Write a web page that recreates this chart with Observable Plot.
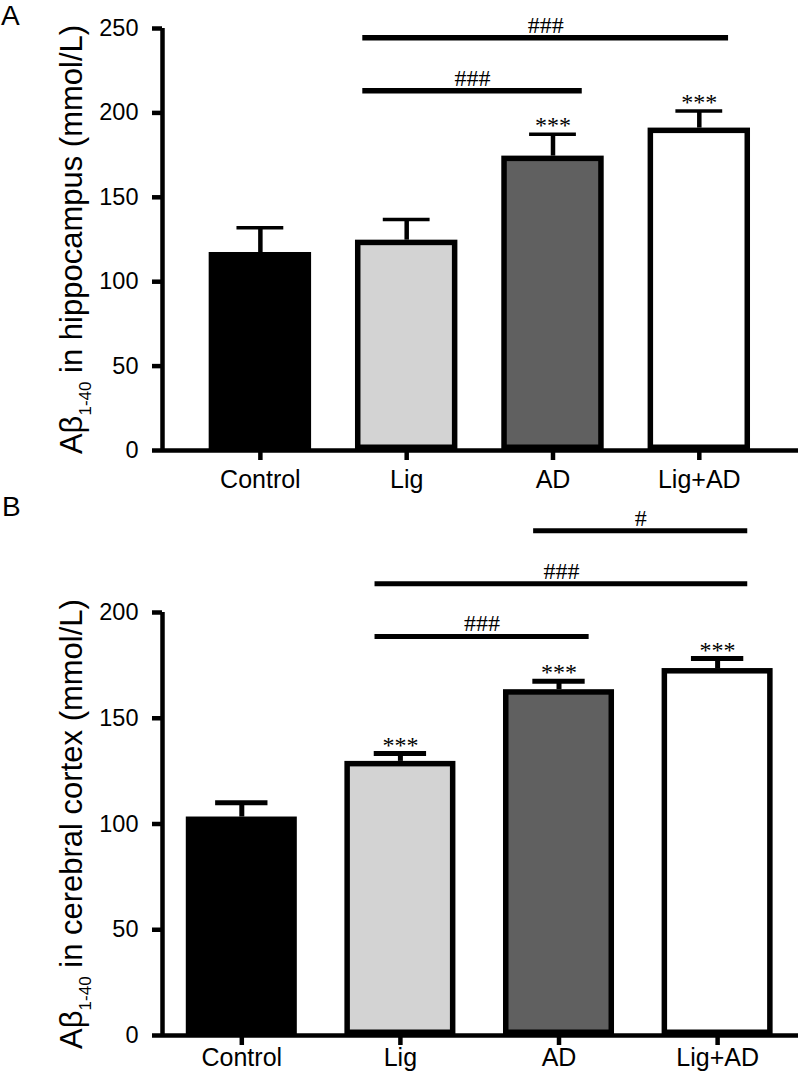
<!DOCTYPE html>
<html><head><meta charset="utf-8">
<script src="https://cdn.jsdelivr.net/npm/d3@7"></script>
<script src="https://cdn.jsdelivr.net/npm/@observablehq/plot@0.6"></script>
<style>
html,body{margin:0;padding:0;background:#fff;}
#wrap{position:relative;width:800px;height:1079px;overflow:hidden;font-family:"Liberation Sans",Arial,sans-serif;}
.panel{position:absolute;left:0;}
.letter{position:absolute;font-size:28px;line-height:normal;color:#000;font-family:"Liberation Sans",Arial,sans-serif;}
</style></head><body>
<div id="wrap">
<div id="pa" class="panel" style="top:0"></div>
<div id="pb" class="panel" style="top:495px"></div>
<div class="letter" style="left:1px;top:0px">A</div>
<div class="letter" style="left:2px;top:491px">B</div>
</div>
<script>
// ---- data ----
const categories = ["Control", "Lig", "AD", "Lig+AD"];

const hippoMean = [117.3, 124.6, 174.4, 191.0];
const hippoSem = [14.6, 12.2, 13.0, 10.1];
const hippoStars = ["", "", "***", "***"];
const hippoCompFrom = ["Lig", "Lig"];
const hippoCompTo = ["AD", "Lig+AD"];
const hippoCompLabel = ["###", "###"];
const hippoTicks = [0, 50, 100, 150, 200, 250];

const cortexMean = [103.3, 129.6, 163.5, 173.5];
const cortexSem = [6.8, 3.7, 4.0, 4.7];
const cortexStars = ["", "***", "***", "***"];
const cortexCompFrom = ["Lig", "Lig", "AD"];
const cortexCompTo = ["AD", "Lig+AD", "Lig+AD"];
const cortexCompLabel = ["###", "###", "#"];
const cortexTicks = [0, 50, 100, 150, 200];

const yTitleMain = "Aβ";
const yTitleSub = "1-40";
const hippoTitleRest = " in hippocampus (mmol/L)";
const cortexTitleRest = " in cerebral cortex (mmol/L)";

// ---- style ----
const barFills = ["#000000", "#d3d3d3", "#606060", "#ffffff"];
const sans = "'Liberation Sans', Arial, sans-serif";
const serif = "'Liberation Serif', 'Times New Roman', serif";

function makePanel(o) {
  const rows = categories.map((c, i) => ({
    i, cat: c, mean: o.mean[i], top: o.mean[i] + o.sem[i], star: o.stars[i], fill: barFills[i]
  }));
  const comps = o.compFrom.map((f, k) => ({
    x1: categories.indexOf(f) + o.compStart,
    x2: categories.indexOf(o.compTo[k]) + o.compEnd,
    y: o.compBase + k * o.compGap,
    label: o.compLabel[k]
  }));
  const fullTitle = yTitleMain + yTitleSub + o.titleRest;
  const plot = Plot.plot({
    width: 800,
    height: o.height,
    marginLeft: 162,
    marginRight: 2,
    marginTop: o.marginTop,
    marginBottom: o.marginBottom,
    style: {fontFamily: sans, color: "#000", background: "#fff", overflow: "visible"},
    x: {domain: o.xDomain, axis: null},
    y: {domain: [0, o.yMax], axis: null},
    color: {type: "identity"},
    marks: [
      Plot.rect(rows, {
        x1: d => d.i - 0.35, x2: d => d.i + 0.35, y1: () => 0, y2: "mean",
        fill: "fill", stroke: "#000", strokeWidth: 5.5, inset: 2.75
      }),
      Plot.ruleX(rows, {x: "i", y1: "mean", y2: "top", stroke: "#000", strokeWidth: o.stemWidth}),
      Plot.ruleY(rows, {y: "top", x1: d => d.i - o.capHalf, x2: d => d.i + o.capHalf, stroke: "#000", strokeWidth: o.capWidth}),
      Plot.text(rows.filter(d => d.star), {
        x: "i", y: "top", text: "star", lineAnchor: "bottom", dy: -1,
        fontFamily: serif, fontSize: 24, fill: "#000"
      }),
      Plot.ruleY(comps, {y: "y", x1: "x1", x2: "x2", stroke: "#000", strokeWidth: o.lineWidth}),
      Plot.text(comps, {
        x: d => (d.x1 + d.x2) / 2, y: "y", text: "label", lineAnchor: "bottom", dy: -5,
        fontFamily: serif, fontSize: 24, fill: "#000"
      }),
      Plot.ruleY([0], {stroke: "#000", strokeWidth: 4.5}),
      Plot.ruleX([o.xDomain[0]], {y1: () => 0, y2: () => o.yMax, stroke: "#000", strokeWidth: 4.5}),
      Plot.axisY({ticks: o.ticks, tickSize: 10, tickPadding: 14, strokeWidth: 4.5, fontSize: 23.5, label: null}),
      Plot.axisX({
        ticks: [0, 1, 2, 3], tickFormat: i => categories[i], tickSize: 10,
        tickPadding: o.xTickPadding, strokeWidth: 4.5, fontSize: 25, label: null
      }),
      Plot.text([fullTitle], {
        frameAnchor: "left", rotate: -90, dx: -81, textAnchor: "middle", lineAnchor: "bottom",
        fontSize: 31, fill: "#000", className: "ytitle"
      })
    ]
  });
  // subscript in the y-axis title
  let el = plot.querySelector(".ytitle");
  if (el && el.tagName.toLowerCase() !== "text") el = el.querySelector("text");
  if (el) {
    el.textContent = "";
    const t = d3.select(el);
    t.append("tspan").text(yTitleMain);
    t.append("tspan").attr("dy", 9).attr("font-size", 17).text(yTitleSub);
    t.append("tspan").attr("dy", -9).text(o.titleRest);
  }
  return plot;
}

document.getElementById("pa").appendChild(makePanel({
  mean: hippoMean, sem: hippoSem, stars: hippoStars,
  compFrom: hippoCompFrom, compTo: hippoCompTo, compLabel: hippoCompLabel,
  ticks: hippoTicks, yMax: 250, titleRest: hippoTitleRest,
  xDomain: [-0.669, 3.678], height: 495, marginTop: 28, marginBottom: 45,
  xTickPadding: 10, compBase: 213.1, compGap: 31.4, compStart: -0.3, compEnd: 0.2,
  capHalf: 0.16, capWidth: 3.5, stemWidth: 4.5, lineWidth: 5.5
}));

document.getElementById("pb").appendChild(makePanel({
  mean: cortexMean, sem: cortexSem, stars: cortexStars,
  compFrom: cortexCompFrom, compTo: cortexCompTo, compLabel: cortexCompLabel,
  ticks: cortexTicks, yMax: 200, titleRest: cortexTitleRest,
  xDomain: [-0.5, 3.51], height: 584, marginTop: 117, marginBottom: 44,
  xTickPadding: 3, compBase: 188.7, compGap: 24.95, compStart: -0.16, compEnd: 0.19,
  capHalf: 0.165, capWidth: 5, stemWidth: 5, lineWidth: 5
}));
</script>
</body></html>
